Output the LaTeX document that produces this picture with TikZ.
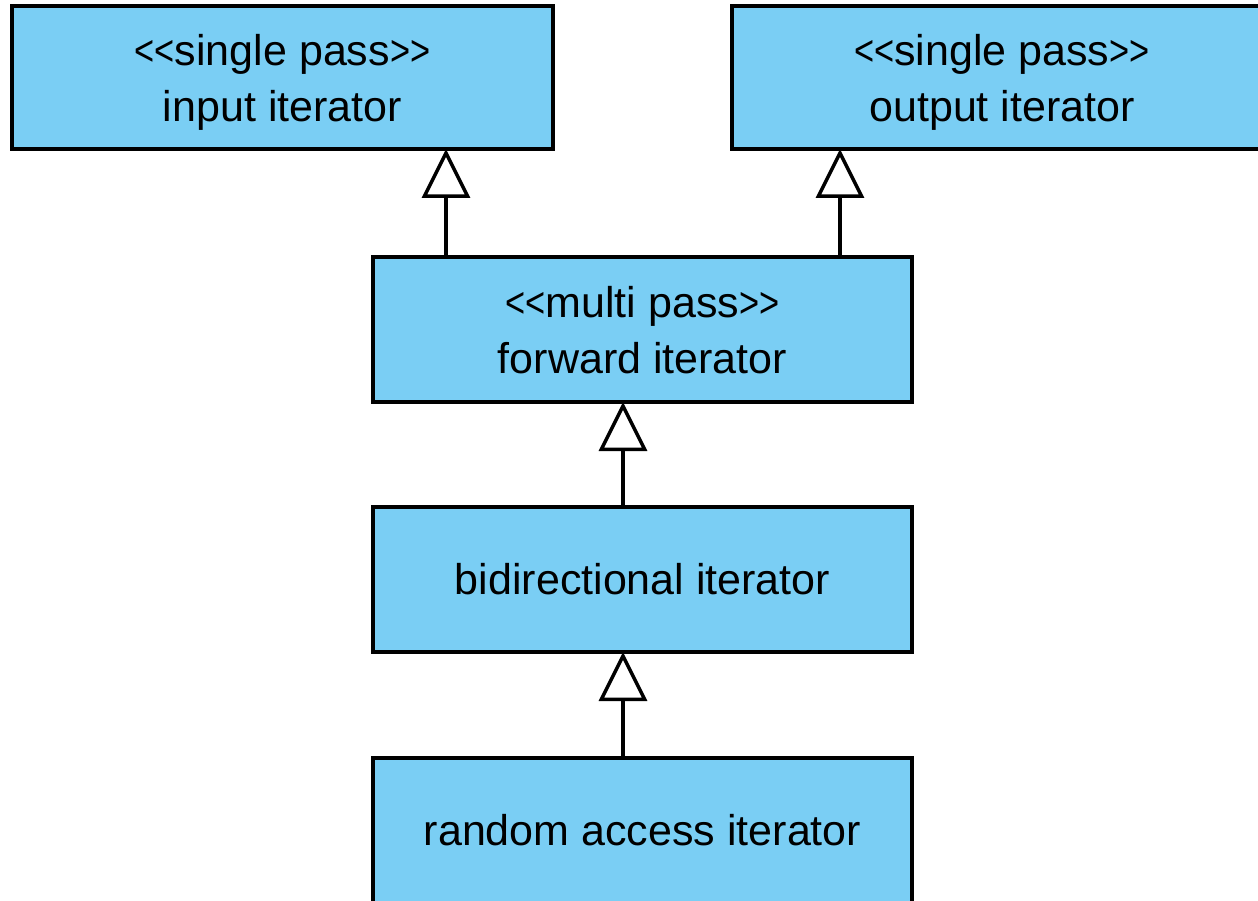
\documentclass[tikz,border=0pt]{standalone}
\usepackage{fontspec}
\setmainfont{Liberation Sans}
\usetikzlibrary{arrows.meta}
\definecolor{boxblue}{RGB}{122,206,244}
\newcommand\ltq{\scalebox{0.8}[1]{<}}
\newcommand\gtq{\scalebox{0.8}[1]{>}}
\newcommand\nodp[1]{\raisebox{0pt}[\height][0pt]{#1}}
\begin{document}
\begin{tikzpicture}[x=1pt,y=-1pt,
  cls/.style={draw=black, line width=3.5pt, fill=boxblue, rectangle,
    inner sep=0pt, outer sep=0pt, align=center,
    font=\fontsize{43}{56}\selectfont},
  inh/.style={line width=3.5pt, -{Triangle[open, length=49pt, width=48pt, line join=miter]}}]
\useasboundingbox (0,0) rectangle (1258,901);
\clip (0,0) rectangle (1258,901);
\node[cls, minimum width=541pt, minimum height=143pt] (inp) at (282.5,77.5)
  {\ltq\ltq single pass\gtq\gtq\\\nodp{input iterator}};
\node[cls, minimum width=540pt, minimum height=143pt] (outp) at (1002,77.5)
  {\ltq\ltq single pass\gtq\gtq\\\nodp{output iterator}};
\node[cls, minimum width=539pt, minimum height=145pt] (fwd) at (642.5,329.5)
  {\ltq\ltq multi pass\gtq\gtq\\\nodp{forward iterator}};
\node[cls, minimum width=539pt, minimum height=145pt] (bid) at (642.5,579.5)
  {bidirectional iterator};
\node[cls, minimum width=539pt, minimum height=145pt] (ran) at (642.5,830.5)
  {random access iterator};
\coordinate (xa) at (446,0);
\coordinate (xb) at (840,0);
\coordinate (xc) at (623,0);
\draw[inh] (fwd.north -| xa) -- (inp.south -| xa);
\draw[inh] (fwd.north -| xb) -- (outp.south -| xb);
\draw[inh] (bid.north -| xc) -- (fwd.south -| xc);
\draw[inh] (ran.north -| xc) -- (bid.south -| xc);
\end{tikzpicture}
\end{document}
